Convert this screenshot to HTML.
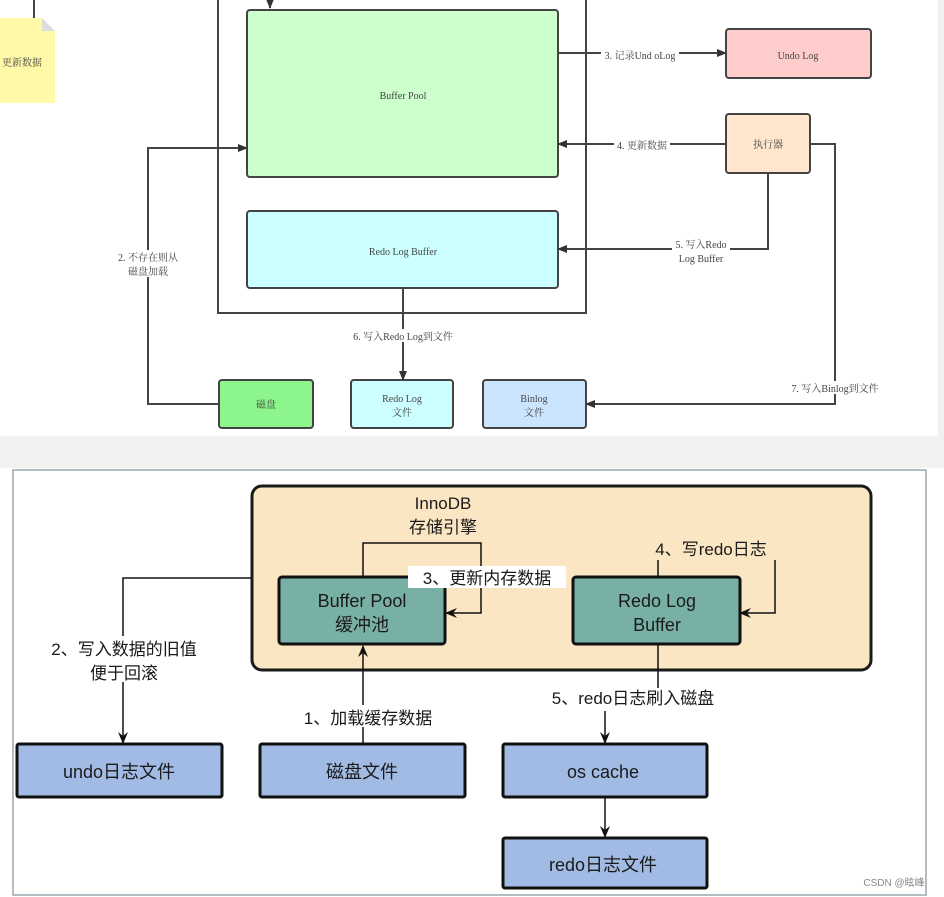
<!DOCTYPE html>
<html><head><meta charset="utf-8"><style>
html,body{margin:0;padding:0;background:#fff;}
svg{display:block;}
text{font-family:"Liberation Serif","Noto Serif CJK SC",serif;fill:#444;}
.s{font-family:"Liberation Sans","Noto Sans CJK SC",sans-serif;fill:#1a1a1a;}
</style></head><body>
<svg width="944" height="897" viewBox="0 0 944 897" xmlns="http://www.w3.org/2000/svg">
<defs>
<marker id="a" markerWidth="10" markerHeight="8" refX="9" refY="4" orient="auto" markerUnits="userSpaceOnUse"><path d="M0,0 L10,4 L0,8 Z" fill="#333"/></marker>
<marker id="b" markerWidth="12" markerHeight="10" refX="11" refY="5" orient="auto" markerUnits="userSpaceOnUse"><path d="M0,0 L12,5 L0,10 L4,5 Z" fill="#111"/></marker>
</defs>
<rect x="0" y="0" width="944" height="436" fill="#fff"/>
<rect x="0" y="436" width="944" height="32" fill="#f1f1ef"/>
<rect x="938" y="0" width="6" height="436" fill="#f1f1ef"/>
<line x1="34" y1="0" x2="34" y2="18" stroke="#444" stroke-width="2"/>
<path d="M0,18 L42,18 L55,31 L55,103 L0,103 Z" fill="#fff9a8"/>
<path d="M42,18 L55,31 L42,31 Z" fill="#ddd"/>
<text x="22" y="66" font-size="10" text-anchor="middle">更新数据</text>
<path d="M218,0 L218,313 L586,313 L586,0" fill="none" stroke="#444" stroke-width="2"/>
<line x1="270" y1="0" x2="270" y2="8" stroke="#333" stroke-width="2" marker-end="url(#a)"/>
<rect x="247" y="10" width="311" height="167" rx="3" fill="#ccffcc" stroke="#444" stroke-width="2"/>
<text x="403" y="99" font-size="10" text-anchor="middle">Buffer Pool</text>
<rect x="247" y="211" width="311" height="77" rx="3" fill="#ccffff" stroke="#444" stroke-width="2"/>
<text x="403" y="255" font-size="10" text-anchor="middle">Redo Log Buffer</text>
<rect x="726" y="29" width="145" height="49" rx="3" fill="#ffcccc" stroke="#444" stroke-width="2"/>
<text x="798" y="59" font-size="10" text-anchor="middle">Undo Log</text>
<rect x="726" y="114" width="84" height="59" rx="3" fill="#ffe6cc" stroke="#444" stroke-width="2"/>
<text x="768" y="148" font-size="10" text-anchor="middle">执行器</text>
<rect x="219" y="380" width="94" height="48" rx="3" fill="#8cf58c" stroke="#444" stroke-width="2"/>
<text x="266" y="408" font-size="10" text-anchor="middle">磁盘</text>
<rect x="351" y="380" width="102" height="48" rx="3" fill="#ccffff" stroke="#444" stroke-width="2"/>
<text x="402" y="402" font-size="10" text-anchor="middle">Redo Log</text>
<text x="402" y="416" font-size="10" text-anchor="middle">文件</text>
<rect x="483" y="380" width="103" height="48" rx="3" fill="#cce5ff" stroke="#444" stroke-width="2"/>
<text x="534" y="402" font-size="10" text-anchor="middle">Binlog</text>
<text x="534" y="416" font-size="10" text-anchor="middle">文件</text>
<line x1="558" y1="53" x2="726" y2="53" stroke="#444" stroke-width="2" marker-end="url(#a)"/>
<rect x="601" y="48" width="78" height="12" fill="#fff"/>
<text x="640" y="59" font-size="10" text-anchor="middle">3. 记录Und oLog</text>
<line x1="726" y1="144" x2="558" y2="144" stroke="#444" stroke-width="2" marker-end="url(#a)"/>
<rect x="614" y="139" width="56" height="12" fill="#fff"/>
<text x="642" y="149" font-size="10" text-anchor="middle">4. 更新数据</text>
<path d="M768,173 L768,249 L558,249" fill="none" stroke="#444" stroke-width="2" marker-end="url(#a)"/>
<rect x="672" y="238" width="58" height="26" fill="#fff"/>
<text x="701" y="248" font-size="10" text-anchor="middle">5. 写入Redo</text>
<text x="701" y="262" font-size="10" text-anchor="middle">Log Buffer</text>
<line x1="403" y1="288" x2="403" y2="380" stroke="#444" stroke-width="2" marker-end="url(#a)"/>
<rect x="346" y="329" width="114" height="13" fill="#fff"/>
<text x="403" y="340" font-size="10" text-anchor="middle">6. 写入Redo Log到文件</text>
<path d="M219,404 L148,404 L148,148 L247,148" fill="none" stroke="#444" stroke-width="2" marker-end="url(#a)"/>
<rect x="114" y="250" width="68" height="27" fill="#fff"/>
<text x="148" y="261" font-size="10" text-anchor="middle">2. 不存在则从</text>
<text x="148" y="275" font-size="10" text-anchor="middle">磁盘加载</text>
<path d="M810,144 L835,144 L835,404 L586,404" fill="none" stroke="#444" stroke-width="2" marker-end="url(#a)"/>
<rect x="786" y="381" width="98" height="13" fill="#fff"/>
<text x="835" y="392" font-size="10" text-anchor="middle">7. 写入Binlog到文件</text>

<rect x="13" y="470" width="913" height="425" fill="#fff" stroke="#9aa8ad" stroke-width="1.5"/>
<rect x="252" y="486" width="619" height="184" rx="10" fill="#fbe6c3" stroke="#1a1a1a" stroke-width="3"/>
<text class="s" x="443" y="509" font-size="17" text-anchor="middle">InnoDB</text>
<text class="s" x="443" y="533" font-size="17" text-anchor="middle">存储引擎</text>
<path d="M363,577 L363,543 L481,543 L481,613 L446,613" fill="none" stroke="#111" stroke-width="1.5" marker-end="url(#b)"/>
<rect x="279" y="577" width="166" height="67" rx="3" fill="#79b0a6" stroke="#111" stroke-width="3"/>
<text class="s" x="362" y="607" font-size="18" text-anchor="middle">Buffer Pool</text>
<text class="s" x="362" y="631" font-size="18" text-anchor="middle">缓冲池</text>
<rect x="408" y="566" width="158" height="22" fill="#fff"/>
<text class="s" x="487" y="584" font-size="17" text-anchor="middle">3、更新内存数据</text>
<path d="M658,577 L658,560" fill="none" stroke="#111" stroke-width="1.5"/>
<path d="M775,560 L775,613 L740,613" fill="none" stroke="#111" stroke-width="1.5" marker-end="url(#b)"/>
<text class="s" x="711" y="555" font-size="17" text-anchor="middle">4、写redo日志</text>
<rect x="573" y="577" width="167" height="67" rx="3" fill="#79b0a6" stroke="#111" stroke-width="3"/>
<text class="s" x="657" y="607" font-size="18" text-anchor="middle">Redo Log</text>
<text class="s" x="657" y="631" font-size="18" text-anchor="middle">Buffer</text>
<path d="M252,578 L123,578 L123,743" fill="none" stroke="#111" stroke-width="1.5" marker-end="url(#b)"/>
<rect x="36" y="636" width="176" height="46" fill="#fff"/>
<text class="s" x="124" y="655" font-size="17" text-anchor="middle">2、写入数据的旧值</text>
<text class="s" x="124" y="679" font-size="17" text-anchor="middle">便于回滚</text>
<line x1="363" y1="744" x2="363" y2="646" stroke="#111" stroke-width="1.5" marker-end="url(#b)"/>
<rect x="288" y="705" width="160" height="22" fill="#fff"/>
<text class="s" x="368" y="724" font-size="17" text-anchor="middle">1、加载缓存数据</text>
<line x1="658" y1="644" x2="658" y2="688" stroke="#111" stroke-width="1.5"/>
<text class="s" x="633" y="704" font-size="17" text-anchor="middle">5、redo日志刷入磁盘</text>
<line x1="605" y1="711" x2="605" y2="743" stroke="#111" stroke-width="1.5" marker-end="url(#b)"/>
<line x1="605" y1="797" x2="605" y2="837" stroke="#111" stroke-width="1.5" marker-end="url(#b)"/>
<rect x="17" y="744" width="205" height="53" rx="2" fill="#a1bbe4" stroke="#111" stroke-width="3"/>
<text class="s" x="119" y="778" font-size="18" text-anchor="middle">undo日志文件</text>
<rect x="260" y="744" width="205" height="53" rx="2" fill="#a1bbe4" stroke="#111" stroke-width="3"/>
<text class="s" x="362" y="778" font-size="18" text-anchor="middle">磁盘文件</text>
<rect x="503" y="744" width="204" height="53" rx="2" fill="#a1bbe4" stroke="#111" stroke-width="3"/>
<text class="s" x="603" y="778" font-size="18" text-anchor="middle">os cache</text>
<rect x="503" y="838" width="204" height="50" rx="2" fill="#a1bbe4" stroke="#111" stroke-width="3"/>
<text class="s" x="603" y="871" font-size="18" text-anchor="middle">redo日志文件</text>
<text class="s" x="894" y="886" font-size="10" text-anchor="middle" style="fill:#888">CSDN @眩峰</text>
</svg>
</body></html>
